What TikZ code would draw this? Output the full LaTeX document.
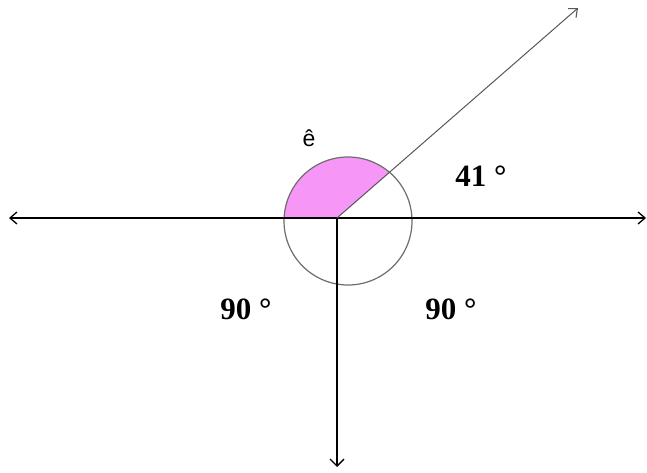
\documentclass[tikz,border=0pt]{standalone}
\usepackage{fontspec}
\setmainfont{Liberation Serif}
\newfontfamily\arialfont{Liberation Sans}
\usetikzlibrary{arrows.meta,calc}
\definecolor{anglepink}{RGB}{246,150,246}
\definecolor{circgray}{RGB}{110,110,110}
\tikzset{
  axisline/.style={line width=1.3pt, black, {Straight Barb[length=7pt,width=12pt,line width=1.3pt]}-{Straight Barb[length=7pt,width=12pt,line width=1.3pt]}},
  downline/.style={line width=1.8pt, black, -{Straight Barb[length=7pt,width=14pt,line width=1.3pt]}},
  rayline/.style={line width=1pt, circgray!80!black, -{Straight Barb[length=7pt,width=12pt,line width=1.1pt]}},
  circline/.style={line width=1.2pt, circgray},
  anglelabel/.style={font=\bfseries\fontsize{31}{31}\selectfont, anchor=base, inner sep=0pt},
  elabel/.style={font=\arialfont\fontsize{23}{23}\selectfont, anchor=base, inner sep=0pt}
}
\begin{document}
\begin{tikzpicture}[x=1pt,y=1pt]
\useasboundingbox (0,0) rectangle (647,472);
\fill[white] (0,0) rectangle (647,472);
% key points (pixel coordinates, y measured upward)
\coordinate (O) at (337,254);
\coordinate (C) at (348,251);
\coordinate (L) at (9,254);
\coordinate (R) at (646,254);
\coordinate (T) at (578,464);
\coordinate (B) at (337,5);
\coordinate (Q) at ($(C)+(49.6:64)$);
% pink angle region
\fill[anglepink] (O) -- (Q) arc[start angle=49.6,end angle=177.3,radius=64] -- cycle;
% circle
\draw[circline] (C) circle[radius=64];
% lines
\draw[axisline] (L) -- (R);
\draw[rayline] (O) -- (T);
\draw[downline] (O) -- (B);
% labels
\node[elabel] (e) at (309,325) {ê};
\node[anglelabel] (a41) at (481,286) {41 °};
\node[anglelabel] (a90l) at (246,153) {90 °};
\node[anglelabel] (a90r) at (451,153) {90 °};
\end{tikzpicture}
\end{document}
